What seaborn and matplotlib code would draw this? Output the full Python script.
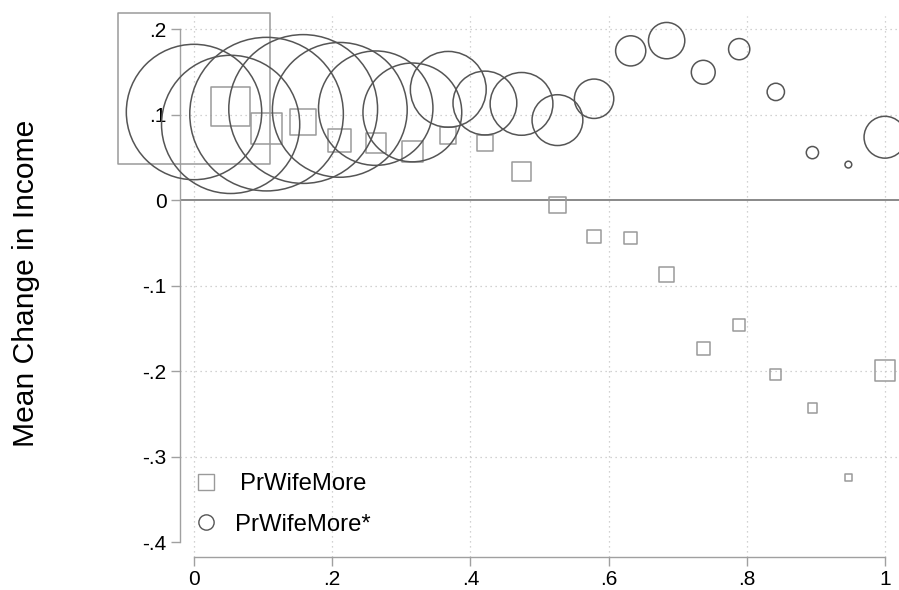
import numpy as np
import pandas as pd
import matplotlib
matplotlib.use("Agg")
import matplotlib.pyplot as plt
from matplotlib.lines import Line2D
import seaborn as sns

# bins of the share of couples where the wife earns more
bin_x = [0.0, 0.053, 0.105, 0.158, 0.211, 0.263, 0.316, 0.368, 0.421, 0.474,
         0.526, 0.579, 0.632, 0.684, 0.737, 0.789, 0.842, 0.895, 0.947, 1.0]

# PrWifeMore (squares)
y_wife = [0.131, 0.110, 0.084, 0.092, 0.070, 0.067, 0.057, 0.076, 0.067, 0.034,
          -0.005, -0.042, -0.044, -0.087, -0.173, -0.146, -0.204, -0.243, -0.324, -0.199]
w_wife = [230.4, 14.8, 9.5, 6.7, 5.3, 4.0, 4.6, 2.6, 2.4, 3.3,
          2.7, 1.9, 1.6, 2.3, 1.6, 1.4, 1.2, 0.96, 0.50, 4.3]

# PrWifeMore* (circles)
y_star = [0.1035, 0.089, 0.101, 0.107, 0.106, 0.108, 0.103, 0.130, 0.114, 0.113,
          0.094, 0.119, 0.175, 0.187, 0.150, 0.177, 0.127, 0.056, 0.042, 0.074]
w_star = [183.3, 191.0, 235.9, 221.4, 181.7, 130.9, 97.6, 57.5, 40.7, 39.4,
          25.8, 15.5, 9.1, 13.2, 5.7, 4.5, 3.0, 1.5, 0.46, 17.5]

labels = ["PrWifeMore", "PrWifeMore*"]
yticks = [0.2, 0.1, 0.0, -0.1, -0.2, -0.3, -0.4]
ytick_labels = [".2", ".1", "0", "-.1", "-.2", "-.3", "-.4"]
xticks = [0, 0.2, 0.4, 0.6, 0.8, 1.0]
xtick_labels = ["0", ".2", ".4", ".6", ".8", "1"]

df_wife = pd.DataFrame({"x": bin_x, "y": y_wife, "w": w_wife})
df_star = pd.DataFrame({"x": bin_x, "y": y_star, "w": w_star})

sns.set_style("white")
plt.rcParams["font.family"] = ["Liberation Sans", "DejaVu Sans"]
plt.rcParams["text.color"] = "black"

sq_col = "#9a9a9a"
ci_col = "#555555"
axis_col = "#a0a0a0"

fig = plt.figure(figsize=(8.99, 5.90), dpi=100)
ax = fig.add_axes([0.2002, 0.0559, 0.7998, 0.917])

# marker area proportional to weight
wmax = 250
smax = 51.84 * wmax

sns.scatterplot(data=df_wife, x="x", y="y", size="w", sizes=(0, smax), size_norm=(0, wmax),
                marker="s", facecolor="none", edgecolor=sq_col, linewidth=1.1,
                legend=False, ax=ax, clip_on=False, zorder=3)
sns.scatterplot(data=df_star, x="x", y="y", size="w", sizes=(0, smax), size_norm=(0, wmax),
                marker="o", facecolor="none", edgecolor=ci_col, linewidth=1.1,
                legend=False, ax=ax, clip_on=False, zorder=3)

ax.axhline(0, color="#808080", lw=1.3, zorder=2)

ax.set_xlim(-0.0203, 1.0203)
ax.set_ylim(-0.417, 0.2158)
ax.set_xticks(xticks)
ax.set_xticklabels(xtick_labels)
ax.set_yticks(yticks)
ax.set_yticklabels(ytick_labels)
ax.set_xlabel("")
ax.set_ylabel("")

ax.grid(True, linestyle=(0, (1, 3)), color="#c4c4c4", lw=0.9, zorder=1)
ygl = ax.yaxis.get_gridlines()
ygl[2].set_visible(False)
ygl[6].set_visible(False)

for s in ["top", "right"]:
    ax.spines[s].set_visible(False)
ax.spines["left"].set_bounds(-0.4, 0.2)
ax.spines["bottom"].set_bounds(0, 1)
for s in ["left", "bottom"]:
    ax.spines[s].set_color(axis_col)
    ax.spines[s].set_linewidth(1.0)

ax.tick_params(axis="both", left=True, bottom=True, colors=axis_col, labelcolor="black",
               labelsize=15, length=6.2, width=1.0, direction="out")
ax.tick_params(axis="y", pad=3.5)
ax.tick_params(axis="x", pad=3.5)

fig.text(26 / 899, 1 - 283 / 590, "Mean Change in Income", rotation=90,
         ha="center", va="center", fontsize=21.6, color="black")

handles = [
    Line2D([], [], marker="s", ls="none", mfc="none", mec=sq_col, ms=11, mew=1.0),
    Line2D([], [], marker="o", ls="none", mfc="none", mec=ci_col, ms=11, mew=1.0),
]
leg = ax.legend(handles, labels, loc="center left",
                bbox_to_anchor=(193.9 / 899, 1 - 504.5 / 590), bbox_transform=fig.transFigure,
                frameon=False, fontsize=17.2, handlelength=1.0, handletextpad=0.7,
                labelspacing=0.78, borderpad=0, borderaxespad=0)
for t in leg.texts:
    t.set_color("black")
leg.texts[0].set_x(5)

fig.savefig("out.png", dpi=100)
